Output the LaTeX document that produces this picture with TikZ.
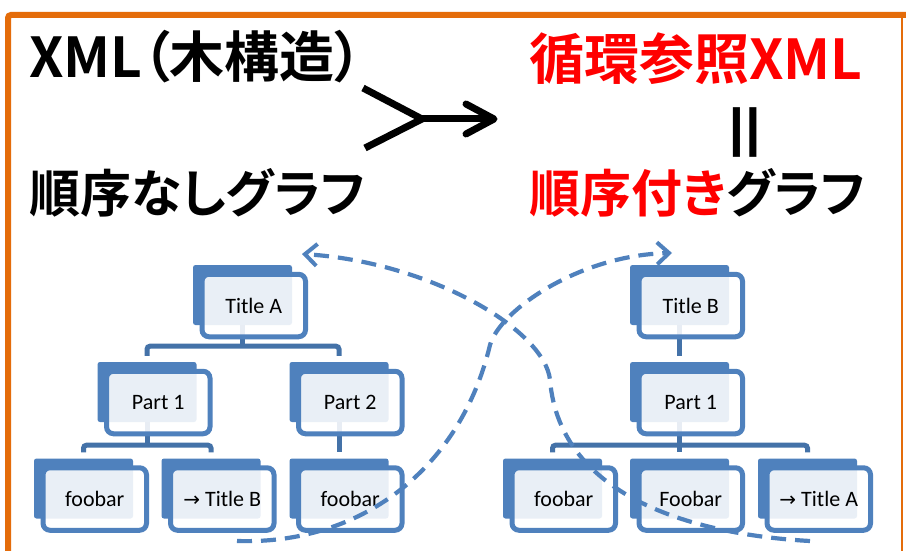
\documentclass[tikz,border=0pt]{standalone}
\usepackage{fontspec}
\usetikzlibrary{calc,arrows.meta}
\newfontfamily\jp{Noto Sans CJK JP Bold}[RawFeature=+palt]
\newfontfamily\lab{Carlito}
\newfontfamily\sym{DejaVu Sans}
\definecolor{nblue}{RGB}{79,129,189}
\definecolor{cblue}{RGB}{68,114,168}
\definecolor{frameor}{RGB}{228,108,10}
\definecolor{jred}{RGB}{255,0,0}
\begin{document}
\begin{tikzpicture}[x=1pt,y=-1pt,
  back/.style={fill=nblue, rounded corners=2.5pt, minimum width=99pt, minimum height=60pt, inner sep=0pt},
  front/.style={draw=nblue, line width=5pt, fill=white, fill opacity=0.88, text opacity=1, rounded corners=7pt, minimum width=103.5pt, minimum height=62.5pt, inner sep=0pt, font=\lab\fontsize{22}{24}\selectfont},
  conn/.style={draw=cblue, line width=5pt, rounded corners=3pt},
  dcurve/.style={draw=nblue, line width=4.2pt, dash pattern=on 15pt off 9pt, -{Straight Barb[length=12pt,width=22pt,line width=4pt]}},
  bigtxt/.style={inner sep=0pt, anchor=base west, font=\jp\fontsize{55}{60}\selectfont},
  midtxt/.style={inner sep=0pt, anchor=base west, font=\jp\fontsize{51}{60}\selectfont},
]
\useasboundingbox (0,0) rectangle (906,551);
\fill[white] (0,0) rectangle (906,551);
% frame
\draw[frameor, line width=6pt, rounded corners=3pt] (8,560) -- (8,15) -- (910,15);
\draw[frameor, line width=1.5pt] (902,15) -- (902,560);

% headings
\node[bigtxt] (t1) at (29,78) {XML（木構造）};
\node[midtxt] (t2) at (29,212) {順序なしグラフ};
\node[bigtxt, text=jred] (t3) at (529,80) {循環参照XML};
\node[midtxt] (t4) at (529,212) {\textcolor{jred}{順序付き}グラフ};
\node[inner sep=0pt, rotate=90, font=\jp\fontsize{70}{74}\selectfont] (eq) at (753,132.5) {＝};

% big arrow
\coordinate (g1) at (363,88);
\coordinate (g2) at (422,119);
\coordinate (g3) at (365,148);
\coordinate (g4) at (494,119);
\coordinate (h1) at (466,104);
\coordinate (h2) at (466,134);
\draw[line width=7pt, line join=miter] (g1) -- (g2) -- (g3);
\draw[line width=7pt] (g2) -- (g4);
\draw[line width=7pt, line cap=round, line join=round] (h1) -- (g4) -- (h2);

% back shapes
\node[back] (tA) at (242.5,295) {};
\node[back] (lp1) at (147,392) {};
\node[back] (lp2) at (339,392) {};
\node[back] (lf1) at (83.5,488.5) {};
\node[back] (lf2) at (211,488.5) {};
\node[back] (lf3) at (339,488.5) {};
\node[back] (tB) at (679.5,295) {};
\node[back] (rp1) at (679.5,392) {};
\node[back] (rf1) at (552.5,488.5) {};
\node[back] (rf2) at (679.5,488.5) {};
\node[back] (rf3) at (807.5,488.5) {};

% connectors
\draw[conn] (tA.south) -- ++(0,21);
\draw[conn] ($(lp1.north)+(0,-6)$) |- ($(tA.south)+(0,21)$) -| ($(lp2.north)+(0,-6)$);
\draw[conn] (lp1.south) -- ++(0,23);
\draw[conn] ($(lf1.north)+(0,-6)$) |- ($(lp1.south)+(0,23)$) -| ($(lf2.north)+(0,-6)$);
\draw[conn] (lp2.south) -- ($(lf3.north)+(0,-6)$);
\draw[conn] (tB.south) -- ($(rp1.north)+(0,-6)$);
\draw[conn] (rp1.south) -- ($(rf2.north)+(0,-6)$);
\draw[conn] ($(rf1.north)+(0,-6)$) |- ($(rp1.south)+(0,23)$) -| ($(rf3.north)+(0,-6)$);

% front shapes
\node[front] (tAf) at ($(tA)+(11.25,10.5)$) {Title A};
\node[front] (lp1f) at ($(lp1)+(11.25,10.5)$) {Part 1};
\node[front] (lp2f) at ($(lp2)+(11.25,10.5)$) {Part 2};
\node[front] (lf1f) at ($(lf1)+(11.25,10.5)$) {foobar};
\node[front] (lf2f) at ($(lf2)+(11.25,10.5)$) {{\sym\fontsize{20}{24}\selectfont →} Title B};
\node[front] (lf3f) at ($(lf3)+(11.25,10.5)$) {foobar};
\node[front] (tBf) at ($(tB)+(11.25,10.5)$) {Title B};
\node[front] (rp1f) at ($(rp1)+(11.25,10.5)$) {Part 1};
\node[front] (rf1f) at ($(rf1)+(11.25,10.5)$) {foobar};
\node[front] (rf2f) at ($(rf2)+(11.25,10.5)$) {Foobar};
\node[front] (rf3f) at ($(rf3)+(11.25,10.5)$) {{\sym\fontsize{20}{24}\selectfont →} Title A};

% dashed cross references
\coordinate (d1s) at (237,541);
\coordinate (d1m) at (490,345);
\coordinate (d1e) at (672,253);
\draw[dcurve] (d1s) .. controls (360,545) and (460,470) .. (d1m) .. controls (500,310) and (580,255) .. (d1e);
\coordinate (d2s) at (810,541);
\coordinate (d2m) at (550,380);
\coordinate (d2e) at (302,254);
\draw[dcurve] (d2s) .. controls (700,535) and (560,500) .. (d2m) .. controls (545,330) and (430,262) .. (d2e);
\end{tikzpicture}
\end{document}
